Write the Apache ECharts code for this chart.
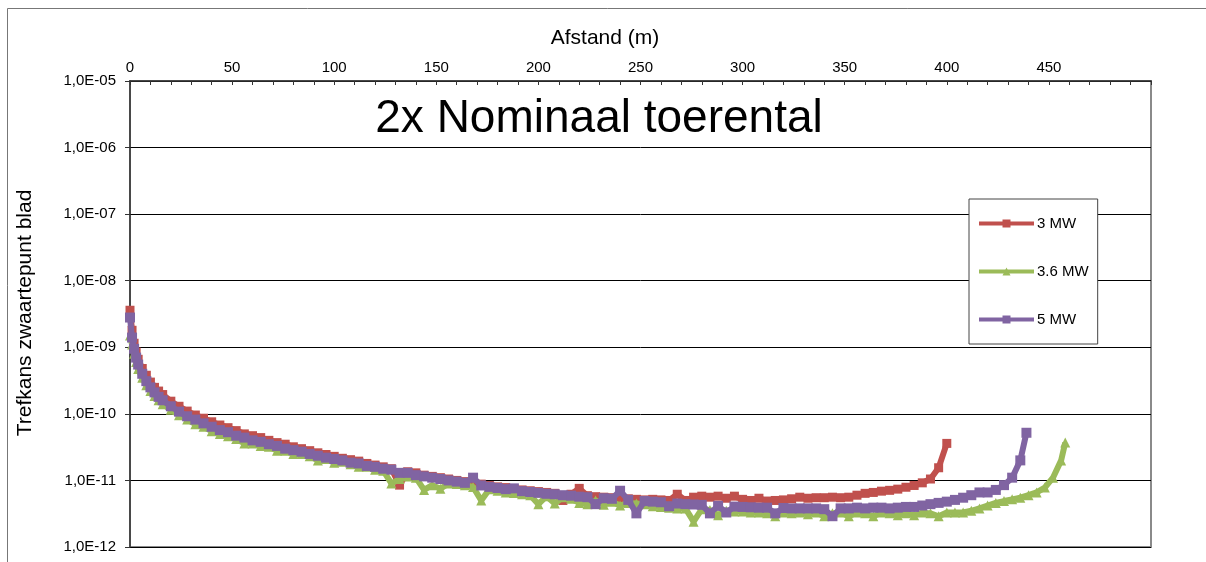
<!DOCTYPE html>
<html>
<head>
<meta charset="utf-8">
<script src="https://cdn.jsdelivr.net/npm/echarts@6/dist/echarts.min.js"></script>
<style>
html,body{margin:0;padding:0;background:#fff;}
#chart{width:1206px;height:562px;}
</style>
</head>
<body>
<div id="chart"></div>
<script>
// Distances (m)
var distance = [0,1,2,3,4,6,8,10,12,14,16,
  20,24,28,32,36,40,44,48,52,56,60,64,68,72,76,80,84,88,92,96,
  100,104,108,112,116,120,124,128,132,136,140,144,148,152,156,160,164,168,172,176,180,184,188,192,196,
  200,204,208,212,216,220,224,228,232,236,240,244,248,252,256,260,264,268,272,276,280,284,288,292,296,
  300,304,308,312,316,320,324,328,332,336,340,344,348,352,356,360,364,368,372,376,380,384,388,392,396,
  400,404,408,412,416,420,424,428,432,436,440,444,448,452,456];
var purpleEndDistance = [439];
var greenEndDistance = [458];

var seriesNames = ['3 MW', '3.6 MW', '5 MW'];

// 3 MW (to 400 m)
var red = [3.6e-9,1.8e-9,1.15e-9,8.5e-10,6.6e-10,4.8e-10,3.8e-10,3.0e-10,2.5e-10,2.2e-10,1.95e-10,
  1.55e-10,1.3e-10,1.1e-10,9.6e-11,8.6e-11,7.6e-11,6.8e-11,6.2e-11,5.6e-11,5.0e-11,4.7e-11,4.4e-11,4.0e-11,3.7e-11,3.5e-11,3.2e-11,3.0e-11,2.8e-11,2.6e-11,2.45e-11,
  2.3e-11,2.15e-11,2.05e-11,1.95e-11,1.8e-11,1.7e-11,1.6e-11,1.5e-11,8.5e-12,1.35e-11,1.3e-11,1.2e-11,1.15e-11,1.1e-11,1.05e-11,1.0e-11,9.6e-12,9.2e-12,8.8e-12,8.4e-12,8.0e-12,7.8e-12,7.3e-12,7.2e-12,7.0e-12,
  6.8e-12,6.6e-12,6.4e-12,5.0e-12,6.2e-12,7.6e-12,5.9e-12,5.7e-12,5.6e-12,5.5e-12,5.4e-12,5.3e-12,5.2e-12,5.1e-12,5.2e-12,5.1e-12,5.0e-12,6.2e-12,5.0e-12,5.6e-12,5.8e-12,5.6e-12,5.8e-12,5.4e-12,5.8e-12,
  5.2e-12,5.0e-12,5.4e-12,4.9e-12,5.0e-12,5.1e-12,5.3e-12,5.6e-12,5.4e-12,5.5e-12,5.5e-12,5.6e-12,5.5e-12,5.6e-12,6.0e-12,6.4e-12,6.6e-12,6.9e-12,7.1e-12,7.4e-12,7.9e-12,8.4e-12,9.2e-12,1.05e-11,1.55e-11,
  3.6e-11];

// 3.6 MW (to 458 m)
var green = [1.5e-9,1.1e-9,8.0e-10,6.0e-10,4.7e-10,3.5e-10,2.7e-10,2.2e-10,1.85e-10,1.6e-10,1.4e-10,
  1.15e-10,9.5e-11,8.2e-11,7.0e-11,6.4e-11,5.5e-11,5.0e-11,4.6e-11,4.2e-11,3.6e-11,3.6e-11,3.3e-11,3.2e-11,2.8e-11,2.8e-11,2.5e-11,2.5e-11,2.3e-11,2.0e-11,2.1e-11,
  1.85e-11,1.9e-11,1.75e-11,1.6e-11,1.6e-11,1.45e-11,1.4e-11,9.0e-12,1.05e-11,1.15e-11,1.1e-11,7.2e-12,8.5e-12,7.5e-12,9.0e-12,8.8e-12,8.5e-12,8.0e-12,5.0e-12,7.4e-12,7.0e-12,6.6e-12,6.5e-12,6.2e-12,6.0e-12,
  4.4e-12,5.8e-12,4.5e-12,5.6e-12,5.3e-12,4.6e-12,4.4e-12,5.0e-12,4.3e-12,4.8e-12,4.2e-12,4.6e-12,4.5e-12,4.4e-12,4.1e-12,4.0e-12,3.9e-12,3.8e-12,3.8e-12,2.4e-12,3.7e-12,3.6e-12,3.0e-12,3.5e-12,3.4e-12,
  3.4e-12,3.3e-12,3.3e-12,3.2e-12,2.9e-12,3.3e-12,3.2e-12,3.3e-12,3.1e-12,3.3e-12,2.9e-12,3.2e-12,3.3e-12,2.9e-12,3.3e-12,3.2e-12,2.9e-12,3.3e-12,3.2e-12,3.0e-12,3.2e-12,3.0e-12,3.3e-12,3.2e-12,2.9e-12,
  3.3e-12,3.3e-12,3.3e-12,3.5e-12,3.8e-12,4.2e-12,4.6e-12,4.9e-12,5.2e-12,5.5e-12,6.0e-12,6.6e-12,7.8e-12,1.1e-11,2.0e-11,
  3.7e-11];

// 5 MW (to 439 m)
var purple = [2.8e-9,1.4e-9,9.5e-10,7.0e-10,5.5e-10,4.0e-10,3.1e-10,2.5e-10,2.1e-10,1.8e-10,1.6e-10,
  1.3e-10,1.08e-10,9.2e-11,8.2e-11,7.2e-11,6.4e-11,5.7e-11,5.3e-11,4.7e-11,4.4e-11,4.0e-11,3.8e-11,3.5e-11,3.3e-11,3.0e-11,2.85e-11,2.7e-11,2.5e-11,2.35e-11,2.2e-11,
  2.1e-11,2.0e-11,1.85e-11,1.8e-11,1.65e-11,1.6e-11,1.5e-11,1.45e-11,1.3e-11,1.3e-11,1.2e-11,1.15e-11,1.1e-11,1.05e-11,1.0e-11,9.6e-12,9.2e-12,1.1e-11,8.4e-12,8.0e-12,7.7e-12,7.4e-12,7.6e-12,6.9e-12,6.7e-12,
  6.5e-12,6.3e-12,6.2e-12,6.0e-12,5.9e-12,5.7e-12,5.6e-12,4.4e-12,5.4e-12,5.3e-12,7.0e-12,5.1e-12,3.2e-12,4.9e-12,4.8e-12,4.7e-12,4.1e-12,4.5e-12,4.4e-12,4.35e-12,4.3e-12,3.2e-12,4.15e-12,3.3e-12,4.05e-12,
  4.0e-12,3.95e-12,3.9e-12,3.9e-12,3.2e-12,3.85e-12,3.8e-12,3.8e-12,3.8e-12,3.8e-12,3.7e-12,2.9e-12,3.8e-12,3.8e-12,3.9e-12,3.8e-12,3.9e-12,3.9e-12,3.8e-12,3.9e-12,4.0e-12,4.0e-12,4.2e-12,4.4e-12,4.6e-12,
  4.8e-12,5.1e-12,5.5e-12,6.0e-12,6.6e-12,6.6e-12,7.2e-12,8.5e-12,1.1e-11,2.0e-11,
  5.2e-11];

var xTicks = [0,50,100,150,200,250,300,350,400,450];

function pairs(dist, vals, extraDist) {
  var d = dist.slice(0, vals.length - (extraDist ? extraDist.length : 0)).concat(extraDist || []);
  return vals.map(function (v, i) { return [d[i], v]; });
}

var chart = echarts.init(document.getElementById('chart'));
var font = 'Liberation Sans, Arial, sans-serif';

chart.setOption({
  animation: false,
  backgroundColor: '#fff',
  textStyle: { fontFamily: font },
  graphic: [
    { type: 'rect', shape: { x: 7.5, y: 8.5, width: 1300, height: 700 }, style: { fill: 'none', stroke: '#777', lineWidth: 1 }, z: 0 },
    { type: 'text', x: 599, y: 119, style: { text: '2x Nominaal toerental', font: '46px ' + font, fill: '#000', textAlign: 'center', textVerticalAlign: 'middle' }, z: 10 },
    { type: 'text', x: 605, y: 38, style: { text: 'Afstand (m)', font: '21px ' + font, fill: '#000', textAlign: 'center', textVerticalAlign: 'middle' }, z: 10 },
    { type: 'text', x: 25, y: 313, rotation: Math.PI / 2, style: { text: 'Trefkans zwaartepunt blad', font: '21px ' + font, fill: '#000', textAlign: 'center', textVerticalAlign: 'middle' }, z: 10 }
  ],
  grid: { left: 130, right: 55, top: 81, bottom: 15, show: true, borderColor: '#8a8a8a', borderWidth: 2, backgroundColor: 'transparent' },
  legend: {
    orient: 'vertical',
    left: 969, top: 199,
    padding: [17, 9, 17, 8],
    itemGap: 33,
    itemWidth: 55, itemHeight: 10,
    backgroundColor: '#fff',
    borderColor: '#444', borderWidth: 1,
    lineStyle: { width: 4 },
    textStyle: { fontSize: 15, color: '#000', fontFamily: font, padding: [0, 0, 0, -2] },
    data: seriesNames
  },
  xAxis: {
    type: 'value', position: 'top', min: 0, max: 500, interval: 10,
    axisLine: { show: true, lineStyle: { color: '#333', width: 1.5 } },
    axisTick: { show: true, inside: true, length: 4, lineStyle: { color: '#333' } },
    axisLabel: { fontSize: 15, color: '#000', margin: 6, fontFamily: font,
      formatter: function (v) { return xTicks.indexOf(v) >= 0 ? String(v) : ''; } },
    splitLine: { show: false }
  },
  yAxis: {
    type: 'log', logBase: 10, min: 1e-12, max: 1e-5,
    axisLine: { show: true, lineStyle: { color: '#333', width: 1.5 } },
    axisTick: { show: true, inside: false, length: 5, lineStyle: { color: '#333' } },
    axisLabel: { fontSize: 15, color: '#000', margin: 14, fontFamily: font,
      formatter: function (v) { var e = Math.round(Math.log10(v)); return '1,0E-' + String(-e).padStart(2, '0'); } },
    splitLine: { show: true, lineStyle: { color: '#000', width: 1 } },
    minorTick: { show: false }, minorSplitLine: { show: false }
  },
  series: [
    { name: seriesNames[0], type: 'line', data: pairs(distance, red), symbol: 'rect', symbolSize: 9, showAllSymbol: true,
      lineStyle: { color: '#C0504D', width: 6 }, itemStyle: { color: '#C0504D' }, z: 3 },
    { name: seriesNames[1], type: 'line', data: pairs(distance, green, greenEndDistance), symbol: 'triangle', symbolSize: 10, showAllSymbol: true,
      lineStyle: { color: '#9BBB59', width: 6 }, itemStyle: { color: '#9BBB59' }, z: 4 },
    { name: seriesNames[2], type: 'line', data: pairs(distance, purple, purpleEndDistance), symbol: 'rect', symbolSize: 10, showAllSymbol: true,
      lineStyle: { color: '#8064A2', width: 6 }, itemStyle: { color: '#8064A2' }, z: 5 }
  ]
});
</script>
</body>
</html>
